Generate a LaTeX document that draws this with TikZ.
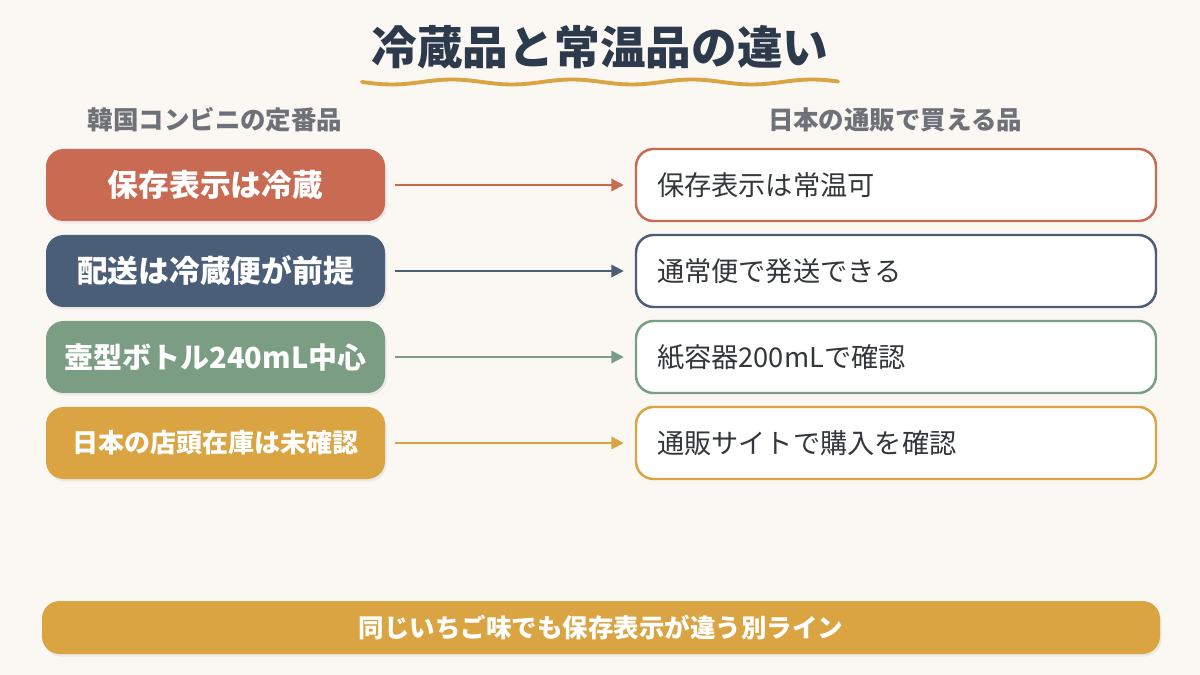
\documentclass[tikz,border=0pt]{standalone}
\usepackage{fontspec}
\setmainfont{Noto Sans CJK JP}
\usetikzlibrary{shadows,arrows.meta}

\definecolor{bgcream}{HTML}{FBF7F3}
\definecolor{titleink}{HTML}{2C3A4C}
\definecolor{headink}{HTML}{6E7178}
\definecolor{redc}{HTML}{C96B52}
\definecolor{navyc}{HTML}{4A5E78}
\definecolor{greenc}{HTML}{7B9D83}
\definecolor{goldc}{HTML}{D9A441}
\definecolor{textink}{HTML}{33363B}

\begin{document}
\begin{tikzpicture}[x=0.02cm, y=-0.02cm,
    lbox/.style={rounded corners=10pt, minimum width=339*0.02cm, minimum height=72*0.02cm,
        text=white, font=\bfseries\fontsize{17.5}{20}\selectfont, inner sep=0pt,
        drop shadow={opacity=0.12, shadow xshift=0.03cm, shadow yshift=-0.05cm}},
    rbox/.style={rounded corners=10pt, minimum width=520*0.02cm, minimum height=72*0.02cm,
        fill=white, line width=1.4pt, inner sep=0pt, text width=478*0.02cm, align=left,
        text=textink, font=\fontsize{15.5}{18}\selectfont},
    link/.style={line width=1.2pt, -{Triangle[length=7pt, width=7pt]}},
    head/.style={text=headink, font=\bfseries\fontsize{14.5}{17}\selectfont}]
    % canvas
    \fill[bgcream] (0,0) rectangle (1200,675);
    \useasboundingbox (0,0) rectangle (1200,675);

    % title and wavy underline
    \node[text=titleink, font=\bfseries\fontsize{26}{30}\selectfont] (title) at (600,47) {冷蔵品と常温品の違い};
    \draw[goldc, line width=2.2pt, line cap=round, domain=362:838, samples=120]
        plot (\x, {82 + 2.5*sin((\x-362)*3)});

    % column heads
    \node[head] (lhead) at (215,120) {韓国コンビニの定番品};
    \node[head] (rhead) at (895,120) {日本の通販で買える品};

    % left column
    \node[lbox, fill=redc] (l1) at (215.5,185) {保存表示は冷蔵};
    \node[lbox, fill=navyc] (l2) at (215.5,271) {配送は冷蔵便が前提};
    \node[lbox, fill=greenc, font=\bfseries\fontsize{16.5}{19}\selectfont] (l3) at (215.5,357) {壺型ボトル240mL中心};
    \node[lbox, fill=goldc, font=\bfseries\fontsize{14.8}{17}\selectfont] (l4) at (215.5,443) {日本の店頭在庫は未確認};

    % right column
    \node[rbox, draw=redc] (r1) at (896,185) {保存表示は常温可};
    \node[rbox, draw=navyc] (r2) at (896,271) {通常便で発送できる};
    \node[rbox, draw=greenc] (r3) at (896,357) {紙容器200mLで確認};
    \node[rbox, draw=goldc] (r4) at (896,443) {通販サイトで購入を確認};

    % arrows
    \draw[link, redc] ([xshift=10*0.02cm]l1.east) -- ([xshift=-11*0.02cm]r1.west);
    \draw[link, navyc] ([xshift=10*0.02cm]l2.east) -- ([xshift=-11*0.02cm]r2.west);
    \draw[link, greenc] ([xshift=10*0.02cm]l3.east) -- ([xshift=-11*0.02cm]r3.west);
    \draw[link, goldc] ([xshift=10*0.02cm]l4.east) -- ([xshift=-11*0.02cm]r4.west);

    % bottom note
    \node[lbox, fill=goldc, minimum width=1118*0.02cm, minimum height=53*0.02cm,
        font=\bfseries\fontsize{14.5}{17}\selectfont] (note) at (601,627.5) {同じいちご味でも保存表示が違う別ライン};
\end{tikzpicture}
\end{document}
